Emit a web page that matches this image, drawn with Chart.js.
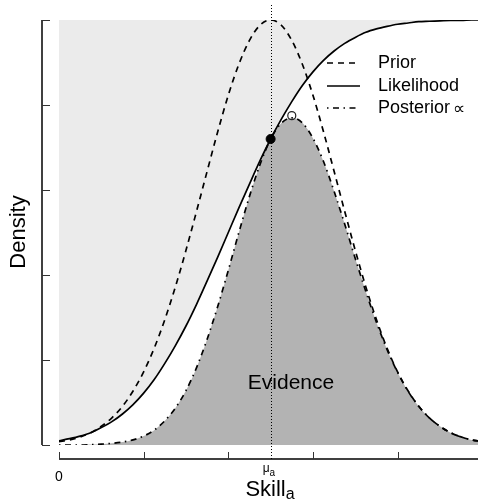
<!DOCTYPE html>
<html>
<head>
<meta charset="utf-8">
<script src="https://cdn.jsdelivr.net/npm/chart.js@4"></script>
<style>
  body { margin: 0; background: #fff; overflow: hidden; }
  #wrap { width: 478px; height: 501px; }
</style>
</head>
<body>
<div id="wrap"><canvas id="myChart"></canvas></div>
<script>
const skill = [0, 0.125, 0.25, 0.375, 0.5, 0.625, 0.75, 0.875, 1, 1.125, 1.25, 1.375, 1.5, 1.625, 1.75, 1.875,
  2, 2.125, 2.25, 2.375, 2.5, 2.625, 2.75, 2.875, 3, 3.125, 3.25, 3.375, 3.5, 3.625, 3.75, 3.875,
  4, 4.125, 4.25, 4.375, 4.5, 4.625, 4.75, 4.875, 5];
const prior = [0.008, 0.012, 0.019, 0.029, 0.044, 0.064, 0.091, 0.127, 0.172, 0.228, 0.295, 0.372, 0.458, 0.550, 0.644, 0.737,
  0.823, 0.896, 0.952, 0.988, 1.000, 0.988, 0.952, 0.896, 0.823, 0.737, 0.644, 0.550, 0.458, 0.372, 0.295, 0.228,
  0.172, 0.127, 0.091, 0.064, 0.044, 0.029, 0.019, 0.012, 0.008];
const likelihood = [0.010, 0.015, 0.021, 0.029, 0.041, 0.055, 0.073, 0.095, 0.122, 0.154, 0.192, 0.234, 0.280, 0.331, 0.386, 0.442,
  0.500, 0.558, 0.614, 0.669, 0.720, 0.766, 0.808, 0.846, 0.878, 0.905, 0.927, 0.945, 0.959, 0.971, 0.979, 0.985,
  0.990, 0.993, 0.996, 0.997, 0.998, 0.999, 0.999, 1.000, 1.000];
const posterior = [0.000, 0.000, 0.000, 0.001, 0.002, 0.004, 0.007, 0.012, 0.021, 0.035, 0.057, 0.087, 0.128, 0.182, 0.249, 0.326,
  0.411, 0.500, 0.585, 0.660, 0.720, 0.757, 0.770, 0.758, 0.722, 0.667, 0.597, 0.520, 0.439, 0.361, 0.289, 0.225,
  0.171, 0.126, 0.091, 0.064, 0.044, 0.029, 0.019, 0.012, 0.008];

// black dot = likelihood at mu, open circle = posterior mode
const markerX = [2.5, 2.75];
const markerY = [0.720, 0.775];

const xTicks = [0, 1, 2, 3, 4];
const yTicks = [0, 0.2, 0.4, 0.6, 0.8, 1.0];
const mu = 2.5;

const FONT = '"Liberation Sans", Arial, Helvetica, sans-serif';

function pts(ys) {
  return skill.map((x, i) => ({ x: x, y: ys[i] }));
}

const decor = {
  id: 'decor',
  afterDatasetsDraw(chart) {
    const c = chart.ctx;
    const xs = chart.scales.x, ys = chart.scales.y;
    c.save();
    c.strokeStyle = '#000';
    c.fillStyle = '#000';

    // vertical dotted line at mu
    const mx = xs.getPixelForValue(mu);
    c.lineWidth = 1;
    c.setLineDash([1, 2]);
    c.beginPath();
    c.moveTo(Math.round(mx) + 0.5, 5);
    c.lineTo(Math.round(mx) + 0.5, 459);
    c.stroke();
    c.setLineDash([]);

    // y axis (offset to the left)
    const ax = 42;
    c.lineWidth = 1.5;
    c.beginPath();
    c.moveTo(ax, ys.getPixelForValue(1));
    c.lineTo(ax, ys.getPixelForValue(0));
    c.stroke();
    c.lineWidth = 1;
    c.strokeStyle = '#333';
    yTicks.forEach(v => {
      const y = Math.round(ys.getPixelForValue(v)) + 0.5;
      c.beginPath();
      c.moveTo(ax, y);
      c.lineTo(ax + 8, y);
      c.stroke();
    });

    // x axis (offset below)
    const ay = 459;
    c.strokeStyle = '#000';
    c.lineWidth = 1.5;
    c.beginPath();
    c.moveTo(xs.getPixelForValue(0), ay);
    c.lineTo(chart.width, ay);
    c.stroke();
    c.lineWidth = 1;
    c.strokeStyle = '#333';
    xTicks.forEach(v => {
      const x = Math.round(xs.getPixelForValue(v)) + 0.5;
      c.beginPath();
      c.moveTo(x, ay);
      c.lineTo(x, ay - 7);
      c.stroke();
    });

    // tick labels
    c.textAlign = 'center';
    c.textBaseline = 'middle';
    c.font = '14px ' + FONT;
    c.fillText('0', xs.getPixelForValue(0), 477);
    c.font = '12px ' + FONT;
    c.textAlign = 'right';
    c.fillText('\u03bc', mx - 1, 469);
    c.textAlign = 'left';
    c.font = '10px ' + FONT;
    c.fillText('a', mx - 1, 473);

    // axis titles
    c.font = '22px ' + FONT;
    c.textAlign = 'left';
    c.textBaseline = 'alphabetic';
    const sw = c.measureText('Skill').width;
    c.font = '16px ' + FONT;
    const aw = c.measureText('a').width;
    const sx = 270 - (sw + aw) / 2;
    c.font = '22px ' + FONT;
    c.fillText('Skill', sx, 496);
    c.font = '16px ' + FONT;
    c.fillText('a', sx + sw, 499);

    c.save();
    c.translate(25, 232);
    c.rotate(-Math.PI / 2);
    c.font = '22px ' + FONT;
    c.textAlign = 'center';
    c.textBaseline = 'alphabetic';
    c.fillText('Density', 0, 0);
    c.restore();

    // Evidence label
    c.font = '21px ' + FONT;
    c.textAlign = 'center';
    c.textBaseline = 'middle';
    c.fillText('Evidence', 291, 383);

    // legend
    const rows = [
      { label: 'Prior', dash: [6, 5], y: 63 },
      { label: 'Likelihood', dash: [], y: 86 },
      { label: 'Posterior', dash: [1.5, 4.5, 6, 4.5], y: 108 }
    ];
    c.strokeStyle = '#000';
    rows.forEach(r => {
      c.lineWidth = 1.7;
      c.setLineDash(r.dash);
      c.beginPath();
      c.moveTo(327, r.y);
      c.lineTo(360, r.y);
      c.stroke();
      c.setLineDash([]);
      c.font = '18px ' + FONT;
      c.textAlign = 'left';
      c.textBaseline = 'middle';
      c.fillText(r.label, 378, r.y);
    });
    c.font = '18px ' + FONT;
    const pw = c.measureText('Posterior').width;
    c.font = '17px ' + FONT;
    c.fillText('\u221d', 378 + pw + 3, 109);

    c.restore();
  }
};

new Chart(document.getElementById('myChart'), {
  type: 'line',
  data: {
    datasets: [
      {
        label: 'markers',
        data: markerX.map((x, i) => ({ x: x, y: markerY[i] })),
        showLine: false,
        pointRadius: [4.5, 4],
        pointBackgroundColor: ['#000', 'rgba(0,0,0,0)'],
        pointBorderColor: ['#000', '#222'],
        pointBorderWidth: [1, 1.2],
        fill: false
      },
      {
        label: 'Prior',
        data: pts(prior),
        borderColor: '#000',
        borderWidth: 1.7,
        borderDash: [6, 5],
        pointRadius: 0,
        cubicInterpolationMode: 'monotone',
        fill: false
      },
      {
        label: 'Likelihood',
        data: pts(likelihood),
        borderColor: '#000',
        borderWidth: 1.7,
        backgroundColor: '#ebebeb',
        pointRadius: 0,
        cubicInterpolationMode: 'monotone',
        fill: 'end'
      },
      {
        label: 'Posterior',
        data: pts(posterior),
        borderColor: '#000',
        borderWidth: 1.7,
        borderDash: [1.5, 4.5, 6, 4.5],
        backgroundColor: '#b3b3b3',
        pointRadius: 0,
        cubicInterpolationMode: 'monotone',
        fill: 'origin'
      }
    ]
  },
  options: {
    responsive: true,
    maintainAspectRatio: false,
    devicePixelRatio: 1,
    animation: false,
    layout: { autoPadding: false, padding: { left: 59, top: 20, right: 0, bottom: 56 } },
    scales: {
      x: { type: 'linear', min: 0, max: 4.95, display: false },
      y: { min: 0, max: 1, display: false }
    },
    plugins: {
      legend: { display: false },
      tooltip: { enabled: false },
      filler: { drawTime: 'beforeDatasetsDraw' }
    }
  },
  plugins: [decor]
});
</script>
</body>
</html>
